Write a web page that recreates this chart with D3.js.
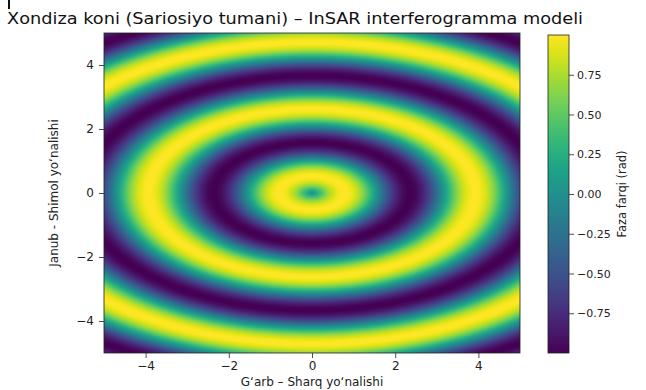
<!DOCTYPE html>
<html>
<head>
<meta charset="utf-8">
<script src="https://cdn.jsdelivr.net/npm/d3@7"></script>
<style>
  html, body { margin: 0; padding: 0; background: #fff; }
  svg { display: block; font-family: "DejaVu Sans", sans-serif; }
</style>
</head>
<body>
<svg id="chart" width="646" height="390"></svg>
<script>
// ---------- data ----------
const titleText = "Xondiza koni (Sariosiyo tumani) – InSAR interferogramma modeli";
const xLabelText = "G‘arb – Sharq yo‘nalishi";
const yLabelText = "Janub - Shimol yo‘nalishi";
const cbarLabelText = "Faza farqi (rad)";

const xExtent = [-5, 5];
const yExtent = [-5, 5];
const phaseExtent = [-1, 1];

const xTicks = [-4, -2, 0, 2, 4];
const yTicks = [-4, -2, 0, 2, 4];
const cbarTicks = [-0.75, -0.5, -0.25, 0, 0.25, 0.5, 0.75];

// fringe nodes measured along the x axis (distance from the centre) and the phase there
const fringeRadius = [0, 0.79, 1.57, 2.36, 3.14, 3.93, 4.71, 5.50, 6.28, 7.07, 7.85, 8.64, 9.42];
const fringePhase  = [0, 1, 0, -1, 0, 1, 0, -1, 0, 1, 0, -1, 0];
// rings are squeezed along y: x-radius / y-radius measured on the picture
const fringeAspect = 1.5;

// ---------- layout ----------
const svg = d3.select("#chart");
const plot = { left: 104, right: 520, top: 33, bottom: 353 };
const cbar = { left: 548, right: 569, top: 35, bottom: 353 };

const x = d3.scaleLinear().domain(xExtent).range([plot.left, plot.right]);
const y = d3.scaleLinear().domain(yExtent).range([plot.bottom, plot.top]);
const color = d3.scaleSequential(d3.interpolateViridis).domain(phaseExtent);
const rIndex = d3.bisector(d => d).right;

function phaseAt(px, py) {
  const r = Math.hypot(px, py * fringeAspect);
  let i = Math.min(Math.max(rIndex(fringeRadius, r) - 1, 0), fringeRadius.length - 2);
  const r0 = fringeRadius[i], r1 = fringeRadius[i + 1];
  const p0 = fringePhase[i], p1 = fringePhase[i + 1];
  const t = Math.min(Math.max((r - r0) / (r1 - r0), 0), 1);
  const ease = Math.abs(p1) > Math.abs(p0) ? d3.easeSinOut : d3.easeSinIn;
  return d3.interpolateNumber(p0, p1)(ease(t));
}

// ---------- heatmap (one cell per screen pixel) ----------
const W = plot.right - plot.left, H = plot.bottom - plot.top;
const canvas = document.createElement("canvas");
canvas.width = W; canvas.height = H;
const ctx = canvas.getContext("2d");
const img = ctx.createImageData(W, H);
for (let j = 0; j < H; j++) {
  const dy = y.invert(plot.top + j + 0.5);
  for (let i = 0; i < W; i++) {
    const dx = x.invert(plot.left + i + 0.5);
    const c = d3.rgb(color(phaseAt(dx, dy)));
    const k = (j * W + i) * 4;
    img.data[k] = c.r; img.data[k + 1] = c.g; img.data[k + 2] = c.b; img.data[k + 3] = 255;
  }
}
ctx.putImageData(img, 0, 0);
svg.append("image")
  .attr("x", plot.left).attr("y", plot.top)
  .attr("width", W).attr("height", H)
  .attr("preserveAspectRatio", "none")
  .attr("href", canvas.toDataURL());

svg.append("rect")
  .attr("x", plot.left).attr("y", plot.top)
  .attr("width", W).attr("height", H)
  .attr("fill", "none").attr("stroke", "#222").attr("stroke-width", 0.8);

// ---------- axes ----------
const fmtInt = d3.format("d");
const xAxis = svg.append("g")
  .attr("transform", `translate(0,${plot.bottom})`)
  .call(d3.axisBottom(x).tickValues(xTicks).tickFormat(fmtInt).tickSize(5).tickPadding(3));
const yAxis = svg.append("g")
  .attr("transform", `translate(${plot.left},0)`)
  .call(d3.axisLeft(y).tickValues(yTicks).tickFormat(fmtInt).tickSize(5).tickPadding(5));
[xAxis, yAxis].forEach(g => {
  g.select(".domain").remove();
  g.selectAll(".tick line").attr("stroke", "#222").attr("stroke-width", 0.8);
  g.selectAll(".tick text").attr("fill", "#222").attr("font-size", 12)
    .attr("font-family", "DejaVu Sans, sans-serif");
});

// ---------- colorbar ----------
const cy = d3.scaleLinear().domain(phaseExtent).range([cbar.bottom, cbar.top]);
const defs = svg.append("defs");
const grad = defs.append("linearGradient").attr("id", "cbgrad")
  .attr("x1", 0).attr("y1", 1).attr("x2", 0).attr("y2", 0);
d3.range(0, 1.0001, 0.05).forEach(t => {
  grad.append("stop").attr("offset", t)
    .attr("stop-color", color(phaseExtent[0] + t * (phaseExtent[1] - phaseExtent[0])));
});
svg.append("rect")
  .attr("x", cbar.left).attr("y", cbar.top)
  .attr("width", cbar.right - cbar.left).attr("height", cbar.bottom - cbar.top)
  .attr("fill", "url(#cbgrad)").attr("stroke", "#222").attr("stroke-width", 0.8);
const cAxis = svg.append("g")
  .attr("transform", `translate(${cbar.right},0)`)
  .call(d3.axisRight(cy).tickValues(cbarTicks).tickFormat(d3.format(".2f")).tickSize(5).tickPadding(3));
cAxis.select(".domain").remove();
cAxis.selectAll(".tick line").attr("stroke", "#222").attr("stroke-width", 0.8);
cAxis.selectAll(".tick text").attr("fill", "#222").attr("font-size", 11)
  .attr("font-family", "DejaVu Sans, sans-serif");

// ---------- text ----------
svg.append("text")
  .attr("x", 7).attr("y", 24)
  .attr("font-size", 16.5).attr("fill", "#111")
  .attr("textLength", 576).attr("lengthAdjust", "spacingAndGlyphs")
  .text(titleText);

svg.append("text")
  .attr("x", (plot.left + plot.right) / 2).attr("y", 386)
  .attr("text-anchor", "middle").attr("font-size", 12).attr("fill", "#222")
  .text(xLabelText);

svg.append("text")
  .attr("transform", `translate(58,${(plot.top + plot.bottom) / 2}) rotate(-90)`)
  .attr("text-anchor", "middle").attr("font-size", 12).attr("fill", "#222")
  .text(yLabelText);

svg.append("text")
  .attr("transform", `translate(626,${(cbar.top + cbar.bottom) / 2}) rotate(-90)`)
  .attr("text-anchor", "middle").attr("font-size", 11.5).attr("fill", "#222")
  .text(cbarLabelText);

// small mark at the top-left corner seen in the reference
svg.append("rect").attr("x", 8).attr("y", 0).attr("width", 2).attr("height", 9).attr("fill", "#111");
</script>
</body>
</html>
